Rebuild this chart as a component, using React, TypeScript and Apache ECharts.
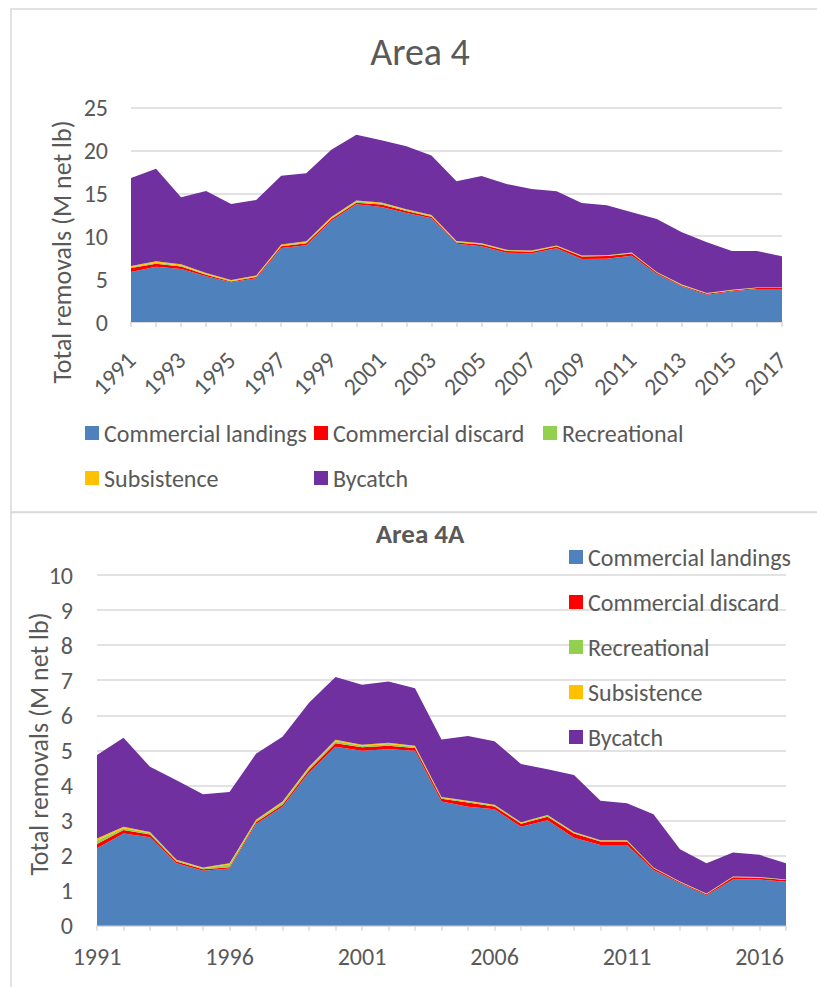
import React, { useEffect, useRef } from "react";
import * as echarts from "echarts";

const years = [
  "1991", "1992", "1993", "1994", "1995", "1996", "1997", "1998", "1999",
  "2000", "2001", "2002", "2003", "2004", "2005", "2006", "2007", "2008",
  "2009", "2010", "2011", "2012", "2013", "2014", "2015", "2016", "2017",
];

const seriesNames = [
  "Commercial landings",
  "Commercial discard",
  "Recreational",
  "Subsistence",
  "Bycatch",
];
const seriesColors = ["#4f81bd", "#ff0000", "#92d050", "#ffc000", "#7030a0"];

// Area 4 (M net lb)
const a4Landings = [5.83, 6.45, 6.18, 5.32, 4.62, 5.09, 8.62, 8.94, 11.81, 13.71, 13.4, 12.7, 12.08, 9.13, 8.82, 8.08, 8.0, 8.59, 7.34, 7.38, 7.73, 5.59, 4.16, 3.19, 3.57, 3.85, 3.85];
const a4Discard = [0.45, 0.35, 0.3, 0.2, 0.1, 0.15, 0.2, 0.25, 0.2, 0.2, 0.3, 0.25, 0.2, 0.15, 0.2, 0.2, 0.2, 0.2, 0.3, 0.3, 0.25, 0.15, 0.1, 0.1, 0.1, 0.1, 0.1];
const a4Recreational = [0.1, 0.12, 0.1, 0.08, 0.06, 0.06, 0.08, 0.1, 0.1, 0.12, 0.1, 0.1, 0.08, 0.06, 0.06, 0.05, 0.05, 0.05, 0.05, 0.05, 0.05, 0.04, 0.04, 0.03, 0.03, 0.03, 0.03];
const a4Subsistence = [0.15, 0.15, 0.15, 0.12, 0.12, 0.12, 0.12, 0.12, 0.12, 0.12, 0.12, 0.1, 0.1, 0.1, 0.1, 0.08, 0.08, 0.08, 0.06, 0.06, 0.06, 0.06, 0.06, 0.05, 0.05, 0.05, 0.05];
const a4Bycatch = [10.25, 10.8, 7.8, 9.55, 8.85, 8.8, 8.04, 7.92, 7.86, 7.68, 7.25, 7.32, 6.96, 6.95, 7.84, 7.67, 7.17, 6.31, 6.12, 5.81, 4.69, 6.16, 6.09, 5.92, 4.53, 4.25, 3.62];

// Area 4A (M net lb)
const a4aLandings = [2.21, 2.63, 2.52, 1.78, 1.57, 1.63, 2.9, 3.39, 4.37, 5.1, 4.99, 5.03, 4.99, 3.54, 3.39, 3.32, 2.82, 3.01, 2.51, 2.3, 2.3, 1.59, 1.21, 0.87, 1.32, 1.32, 1.25];
const a4aDiscard = [0.12, 0.1, 0.08, 0.05, 0.04, 0.04, 0.05, 0.06, 0.07, 0.1, 0.1, 0.1, 0.08, 0.08, 0.12, 0.08, 0.09, 0.1, 0.12, 0.1, 0.1, 0.05, 0.03, 0.03, 0.06, 0.05, 0.05];
const a4aRecreational = [0.1, 0.05, 0.04, 0.03, 0.03, 0.08, 0.04, 0.06, 0.06, 0.06, 0.04, 0.05, 0.03, 0.03, 0.03, 0.03, 0.02, 0.03, 0.02, 0.02, 0.02, 0.01, 0.01, 0.01, 0.01, 0.01, 0.01];
const a4aSubsistence = [0.06, 0.04, 0.03, 0.02, 0.02, 0.03, 0.03, 0.03, 0.03, 0.04, 0.03, 0.04, 0.03, 0.02, 0.02, 0.02, 0.02, 0.02, 0.02, 0.02, 0.02, 0.01, 0.01, 0.01, 0.01, 0.01, 0.01];
const a4aBycatch = [2.38, 2.54, 1.86, 2.27, 2.09, 2.03, 1.88, 1.85, 1.83, 1.79, 1.71, 1.74, 1.64, 1.64, 1.85, 1.81, 1.66, 1.3, 1.63, 1.12, 1.05, 1.52, 0.92, 0.86, 0.69, 0.63, 0.46];

const titleTop = "Area 4";
const titleBottom = "Area 4A";
const yAxisTitle = "Total removals (M net lb)";

const FONT = "Carlito, Lato, 'Open Sans', sans-serif";
const TEXT = "#595959";
const GRID = "#d9d9d9";
const FS = 24;
const YT = 26;

export default function App() {
  const ref = useRef<HTMLDivElement>(null);

  useEffect(() => {
    if (!ref.current) return;
    const chart = echarts.init(ref.current, undefined, { renderer: "svg" });

    const a4 = [a4Landings, a4Discard, a4Recreational, a4Subsistence, a4Bycatch];
    const a4a = [a4aLandings, a4aDiscard, a4aRecreational, a4aSubsistence, a4aBycatch];

    const mkSeries = (data: number[][], idx: number, stack: string) =>
      data.map((d, i) => ({
        name: seriesNames[i],
        type: "line",
        stack,
        xAxisIndex: idx,
        yAxisIndex: idx,
        data: d,
        showSymbol: false,
        symbol: "none",
        lineStyle: { width: 0 },
        areaStyle: { color: seriesColors[i], opacity: 1 },
        itemStyle: { color: seriesColors[i] },
        emphasis: { disabled: true },
      }));

    const legendText = { color: TEXT, fontSize: FS, fontFamily: FONT, lineHeight: 26 };
    const legendBase = {
      orient: "horizontal",
      icon: "rect",
      itemWidth: 14,
      itemHeight: 14,
      padding: 0,
      selectedMode: false,
      textStyle: legendText,
    };
    const topLegendPos = [
      [85, 420],
      [314, 420],
      [543, 420],
      [85, 465],
      [314, 465],
    ];
    const bottomLegendPos = [544, 589, 634, 679, 724];

    const legends: any[] = [];
    seriesNames.forEach((n, i) => {
      legends.push({ ...legendBase, data: [n], left: topLegendPos[i][0], top: topLegendPos[i][1] });
    });
    seriesNames.forEach((n, i) => {
      legends.push({ ...legendBase, data: [n], left: 569, top: bottomLegendPos[i] });
    });

    const xAxisCommon = {
      type: "category",
      data: years,
      boundaryGap: false,
      axisLine: { lineStyle: { color: GRID, width: 1.5 } },
      axisTick: { show: true, interval: 0, length: 5, lineStyle: { color: GRID, width: 1.5 } },
      splitLine: { show: false },
    };

    const yAxisCommon = {
      type: "value",
      min: 0,
      axisLine: { show: false },
      axisTick: { show: false },
      splitLine: { lineStyle: { color: GRID, width: 1.5 } },
    };

    const yTitle = (x: number, y: number) => ({
      type: "text",
      x,
      y,
      rotation: Math.PI / 2,
      style: {
        text: yAxisTitle,
        fill: TEXT,
        fontSize: YT,
        fontFamily: FONT,
        textAlign: "center",
        textVerticalAlign: "middle",
      },
    });

    chart.setOption({
      animation: false,
      backgroundColor: "#ffffff",
      textStyle: { fontFamily: FONT },
      graphic: [
        {
          type: "rect",
          shape: { x: 11, y: 9, width: 830, height: 503 },
          style: { fill: "none", stroke: GRID, lineWidth: 1.5 },
          silent: true,
          z: -10,
        },
        {
          type: "rect",
          shape: { x: 11, y: 512.5, width: 830, height: 500 },
          style: { fill: "none", stroke: GRID, lineWidth: 1.5 },
          silent: true,
          z: -10,
        },
        {
          type: "text",
          x: 420,
          y: 52,
          style: {
            text: titleTop,
            fill: TEXT,
            fontSize: 38,
            fontFamily: FONT,
            textAlign: "center",
            textVerticalAlign: "middle",
          },
        },
        {
          type: "text",
          x: 420,
          y: 533,
          style: {
            text: titleBottom,
            fill: TEXT,
            fontSize: 27,
            fontWeight: "bold",
            fontFamily: FONT,
            textAlign: "center",
            textVerticalAlign: "middle",
          },
        },
        yTitle(62, 252),
        yTitle(39, 744),
      ],
      legend: legends,
      grid: [
        { left: 131, right: 35, top: 107.5, height: 214.5, containLabel: false },
        { left: 97, right: 31, top: 575, height: 350.7, containLabel: false },
      ],
      xAxis: [
        {
          ...xAxisCommon,
          gridIndex: 0,
          axisLabel: {
            interval: 1,
            rotate: 45,
            margin: 34,
            color: TEXT,
            fontSize: FS,
            fontFamily: FONT,
          },
        },
        {
          ...xAxisCommon,
          gridIndex: 1,
          axisLabel: {
            interval: 4,
            margin: 19,
            color: TEXT,
            fontSize: FS,
            fontFamily: FONT,
          },
        },
      ],
      yAxis: [
        {
          ...yAxisCommon,
          gridIndex: 0,
          max: 25,
          interval: 5,
          axisLabel: { margin: 23, color: TEXT, fontSize: FS, fontFamily: FONT },
        },
        {
          ...yAxisCommon,
          gridIndex: 1,
          max: 10,
          interval: 1,
          axisLabel: { margin: 24, color: TEXT, fontSize: FS, fontFamily: FONT },
        },
      ],
      series: [...mkSeries(a4, 0, "a4"), ...mkSeries(a4a, 1, "a4a")],
    });

    return () => chart.dispose();
  }, []);

  return (
    <div
      ref={ref}
      style={{ position: "absolute", left: 0, top: 0, width: 817, height: 987 }}
    />
  );
}
